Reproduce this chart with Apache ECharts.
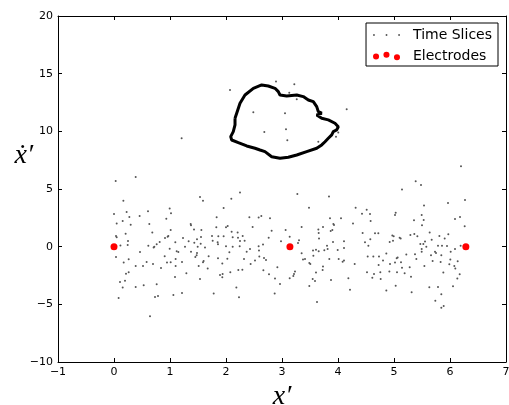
<!DOCTYPE html>
<html><head><meta charset="utf-8">
<script src="https://cdn.jsdelivr.net/npm/echarts@6/dist/echarts.min.js"></script>
<style>html,body{margin:0;padding:0;background:#fff}#c{width:509px;height:405px}</style>
</head><body><div id="c"></div>
<script>
const xTicks = [-1, 0, 1, 2, 3, 4, 5, 6, 7];
const yTicks = [-10, -5, 0, 5, 10, 15, 20];
const seriesNames = ['Time Slices', 'Electrodes'];
const electrodeX = [0, 3.1416, 6.2832];
const electrodeY = [0, 0, 0];

// scattered time-slice points (x', xdot')
const slicePoints = [
 [0.030,5.70],[0.387,6.04],[0.167,3.99],[0.226,3.01],[0.0,2.84],[0.274,2.58],[0.458,2.66],[0.607,3.07],[0.994,3.30],[1.018,2.89],[0.934,2.43],[1.536,4.31],[1.589,3.99],[2.095,4.16],[1.958,3.36],[1.833,2.55],[0.048,2.00],[0.155,2.23],[0.298,1.91],[0.631,1.97],[1.369,1.97],[1.375,1.85],[1.012,1.45],[1.560,1.45],[1.429,1.48],[2.0,1.68],[2.030,1.79],[1.827,1.68],[2.101,1.30],[0.208,1.13],[0.036,0.93],[0.048,0.81],[0.684,1.22],[0.970,0.93],[0.958,0.87],[0.911,0.75],[1.232,0.75],[1.095,0.38],[0.816,0.41],[0.762,0.21],[0.720,0.00],[0.708,-0.08],[0.613,0.09],[0.250,0.49],[0.244,0.15],[0.115,0.10],[1.333,0.47],[1.434,0.35],[1.482,0.64],[1.554,0.84],[1.750,0.93],[1.863,0.90],[1.958,0.90],[2.119,0.81],[1.762,0.52],[1.851,0.38],[1.548,0.26],[1.268,0.00],[1.494,0.00],[1.625,-0.08],[1.857,0.21],[2.0,0.03],[2.119,0.0],[0.994,-0.17],
 [0.036,-0.89],[0.262,-1.10],[0.173,-1.38],[0.387,-1.67],[0.518,-1.67],[0.583,-1.33],[0.696,-1.50],[0.839,-1.85],[0.905,-0.84],[0.946,-1.38],[1.012,-1.36],[1.101,-1.07],[1.101,-1.67],[1.214,-1.33],[1.375,-0.43],[1.482,-0.55],[1.476,-0.75],[1.452,-0.89],[1.601,-1.24],[1.589,-1.36],[1.690,-0.84],[1.512,-1.67],[1.673,-1.90],[1.857,-1.01],[1.934,-1.47],[2.024,-1.04],[2.060,-0.49],[2.077,-2.22],[1.940,-2.37],[1.893,-2.45],[1.934,-2.66],[1.292,-2.31],[1.089,-2.63],[1.536,-2.80],[0.214,-2.34],[0.262,-2.22],[0.107,-3.06],[0.196,-2.95],[0.155,-3.55],[0.387,-3.49],[0.530,-3.35],[0.762,-3.26],[0.083,-4.45],[0.732,-4.36],[0.786,-4.27],[1.060,-4.19],[1.214,-4.01],[1.780,-4.07],[0.643,-6.04],[0.464,-0.46],[1.119,-0.40],[1.149,-0.46],
 [2.25,4.69],[3.274,4.57],[3.839,4.34],[3.482,3.38],[4.315,3.38],[4.429,2.86],[2.417,2.55],[2.583,2.52],[2.631,2.66],[2.786,2.46],[2.476,1.71],[2.815,1.39],[3.065,1.45],[3.351,1.71],[3.137,0.87],[2.762,0.78],[2.208,1.22],[2.298,0.93],[2.214,0.78],[2.333,0.52],[2.25,0.49],[2.661,0.18],[2.982,0.47],[3.304,0.55],[3.286,0.32],[3.649,1.48],[3.655,1.19],[3.732,1.71],[3.917,1.97],[3.929,1.88],[3.857,2.46],[4.054,2.46],[4.268,2.00],[3.899,1.45],[3.869,1.36],[3.661,0.70],[3.911,0.41],[4.107,0.47],[4.440,1.19],[4.482,0.38],
 [2.429,-0.20],[2.244,0.03],[2.583,0.03],[3.607,-0.26],[3.815,-0.20],[3.804,0.09],[4.107,-0.11],
 [2.369,-0.43],[2.589,-0.34],[2.321,-1.07],[2.518,-1.21],[2.595,-0.86],[2.679,-0.98],[2.714,-1.15],[2.440,-1.50],[2.220,-2.02],[2.292,-2.00],[2.667,-2.05],[2.917,-1.79],[2.768,-2.40],[2.875,-2.77],[2.964,-3.23],[3.137,-2.74],[3.202,-2.54],[3.232,-2.16],[3.214,-2.37],[2.185,-3.55],[2.232,-4.39],[2.869,-4.07],[3.351,-0.57],[3.375,-1.12],[3.411,-1.07],[3.560,-0.78],[3.554,-0.34],[3.488,-1.41],[3.506,-1.50],[3.655,-0.40],[3.756,-0.31],[3.994,-0.29],[3.845,-1.07],[4.012,-1.07],[4.107,-1.21],[4.083,-1.30],[4.298,-1.50],[3.732,-1.73],[3.726,-2.02],[3.607,-2.25],[3.548,-2.80],[3.589,-2.97],[3.875,-2.89],[4.185,-2.74],[3.488,-3.41],[4.214,-3.73],[3.625,-4.79],
 [6.196,6.97],[5.387,5.67],[5.482,5.35],[5.143,4.95],[6.268,4.05],[5.964,3.79],[5.536,3.56],[4.512,3.21],[4.571,2.84],[5.030,2.95],[5.018,2.75],[4.583,2.23],[5.494,2.75],[5.530,2.32],[5.357,2.29],[5.5,1.85],[6.179,2.58],[6.089,2.40],[6.262,1.77],[5.637,1.22],[5.970,1.07],[5.810,0.93],[5.905,0.70],[4.661,1.16],[4.720,1.16],[4.970,0.96],[4.994,0.90],[5.101,0.78],[5.119,0.70],[5.292,1.01],[5.363,1.10],[5.417,0.90],[5.673,0.61],[5.554,0.44],[5.524,0.23],[5.470,0.23],[4.577,0.64],[4.982,0.52],[4.923,0.41],
 [4.542,0.09],[4.863,-0.60],[5.220,-0.69],[5.375,-0.66],[5.494,-0.20],[5.494,-0.43],[5.577,0.0],[5.732,-0.43],[5.75,-0.55],[5.661,-0.75],[5.845,-0.75],[5.786,0.09],[5.857,0.09],[5.946,0.06],[6.012,-0.43],[6.089,-0.20],[6.190,0.09],[4.530,-0.86],[4.631,-0.86],[4.732,-0.86],[4.804,-1.21],[4.726,-1.59],[4.929,-1.50],[5.018,-1.38],[5.048,-1.01],[5.065,-0.95],[5.125,-1.36],[5.280,-1.79],[5.143,-1.82],[5.399,-1.07],[5.542,-1.67],[5.690,-1.24],[5.833,-1.33],[6.006,-1.12],[6.137,-1.27],[5.988,-1.53],[6.077,-1.67],[6.095,-1.90],[4.518,-2.22],[4.643,-2.37],[4.756,-2.22],[4.917,-2.16],[5.054,-2.22],[5.190,-2.31],[5.304,-2.60],[4.613,-2.69],[4.762,-2.80],[5.881,-2.25],[6.173,-2.40],[6.131,-2.77],[6.054,-3.44],[5.786,-3.49],[5.631,-3.52],[5.030,-3.38],[4.863,-3.81],[5.315,-3.96],[5.845,-4.13],[5.738,-4.68],[5.887,-5.14],[5.845,-5.29],
 [1.208,9.40],[2.071,13.59],[2.893,14.31],[3.22,14.08],[3.13,13.35],[3.263,12.78],[4.155,11.91],[2.488,11.65],[3.054,11.57],[3.071,10.18],[2.684,9.95],[3.095,9.23],[3.648,9.10],[4.005,9.89],[3.964,9.54]
];

// dense closed trajectory (traced outline)
const loopX = [2.161,2.191,2.250,2.339,2.488,2.637,2.755,2.875,2.934,2.964,3.084,3.263,3.380,3.470,3.559,3.620,3.648,3.709,3.620,3.709,3.827,3.946,4.005,3.977,3.916,3.888,3.827,3.768,3.709,3.620,3.441,3.263,3.113,2.964,2.816,2.696,2.607,2.518,2.370,2.220,2.102,2.084,2.130,2.161,2.161];
const loopY = [11.13,11.57,12.43,13.15,13.73,14.02,13.93,13.73,13.44,13.15,13.07,13.15,13.01,12.72,12.57,12.14,11.71,11.57,11.42,11.13,10.99,10.70,10.40,10.12,9.97,9.69,9.40,9.10,8.82,8.53,8.24,7.95,7.75,7.66,7.80,8.24,8.38,8.53,8.73,9.02,9.25,9.54,9.97,10.55,11.13];

const fmt = v => (v < 0 ? '\u2212' + Math.abs(v) : String(v));
const tickFont = { color: '#000', fontSize: 11, fontFamily: 'DejaVu Sans' };

function xAxisDef(pos, showLabels) {
  return {
    type: 'value', position: pos, min: xTicks[0], max: xTicks[xTicks.length - 1], interval: 1,
    axisLine: { show: true, onZero: false, lineStyle: { color: '#000', width: 1 } },
    axisTick: { show: true, inside: true, length: 4, lineStyle: { color: '#000' } },
    axisLabel: Object.assign({ show: showLabels, margin: 5, formatter: fmt }, tickFont),
    splitLine: { show: false }
  };
}
function yAxisDef(pos, showLabels) {
  return {
    type: 'value', position: pos, min: yTicks[0], max: yTicks[yTicks.length - 1], interval: 5,
    axisLine: { show: true, onZero: false, lineStyle: { color: '#000', width: 1 } },
    axisTick: { show: true, inside: true, length: 4, lineStyle: { color: '#000' } },
    axisLabel: Object.assign({ show: showLabels, margin: 5, formatter: fmt }, tickFont),
    splitLine: { show: false }
  };
}

const labelFont = { fontFamily: 'Liberation Serif', fontStyle: 'italic', fontSize: 28, color: '#000' };
const xa = xAxisDef('bottom', true);
xa.name = 'x\u2032';
xa.nameLocation = 'middle';
xa.nameGap = 21;
xa.nameTextStyle = Object.assign({ verticalAlign: 'top' }, labelFont);
const ya = yAxisDef('left', true);
ya.name = '{a|\u1E8B\u2032}\n{b| }';
ya.nameLocation = 'middle';
ya.nameRotate = 0;
ya.nameGap = 25;
ya.nameMoveOverlap = false;
ya.nameTextStyle = {
  align: 'right',
  rich: { a: Object.assign({ lineHeight: 28 }, labelFont), b: { fontSize: 10, lineHeight: 66 } }
};

const grayDots = 'path://M0,0.8a0.8,0.8 0 1,0 1.6,0a0.8,0.8 0 1,0 -1.6,0Z M10.6,0.8a0.8,0.8 0 1,0 1.6,0a0.8,0.8 0 1,0 -1.6,0Z M21.2,0.8a0.8,0.8 0 1,0 1.6,0a0.8,0.8 0 1,0 -1.6,0Z';
const redDots = 'path://M0,4.6a3,3 0 1,0 6,0a3,3 0 1,0 -6,0Z M10.3,3a3,3 0 1,0 6,0a3,3 0 1,0 -6,0Z M20.7,5.3a3,3 0 1,0 6,0a3,3 0 1,0 -6,0Z';

const chart = echarts.init(document.getElementById('c'), null, { renderer: 'canvas' });
chart.setOption({
  animation: false,
  backgroundColor: '#fff',
  grid: { left: 58, right: 3, top: 16, bottom: 43, containLabel: false, outerBoundsMode: 'none' },
  legend: {
    orient: 'vertical', right: 11, top: 23, align: 'left',
    padding: [4, 6, 2, 7], itemGap: 5, itemWidth: 27, itemHeight: 9,
    borderColor: '#000', borderWidth: 1, backgroundColor: '#fff',
    symbolKeepAspect: true,
    textStyle: { color: '#000', fontSize: 14, fontFamily: 'DejaVu Sans', lineHeight: 16, padding: [0, 0, 0, 8] },
    data: [{ name: seriesNames[0], icon: grayDots }, { name: seriesNames[1], icon: redDots }]
  },
  xAxis: [xa, xAxisDef('top', false)],
  yAxis: [ya, yAxisDef('right', false)],
  series: [
    {
      name: seriesNames[0], type: 'scatter', symbol: 'circle', symbolSize: 2,
      itemStyle: { color: '#555', opacity: 1 }, data: slicePoints, z: 2
    },
    {
      name: seriesNames[0], type: 'line', showSymbol: false, symbol: 'none',
      lineStyle: { color: '#000', width: 3 }, smooth: false,
      data: loopX.map((x, i) => [x, loopY[i]]), z: 3
    },
    {
      name: seriesNames[1], type: 'scatter', symbol: 'circle', symbolSize: 7,
      itemStyle: { color: '#ff0000', opacity: 1 }, data: electrodeX.map((x, i) => [x, electrodeY[i]]), z: 4
    }
  ]
});
</script></body></html>
